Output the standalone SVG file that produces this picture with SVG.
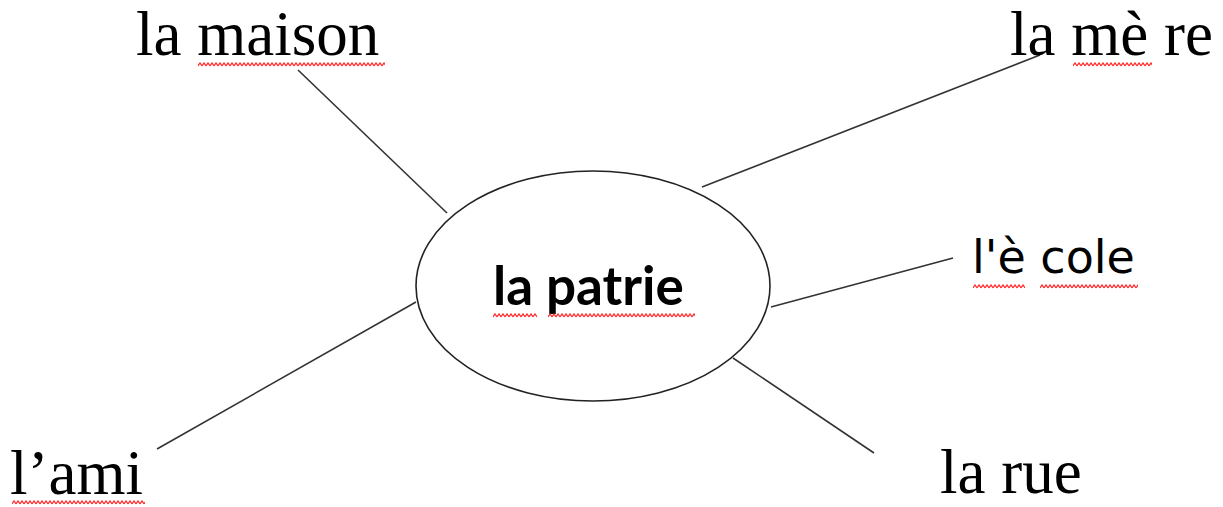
<svg xmlns="http://www.w3.org/2000/svg" width="1223" height="507" viewBox="0 0 1223 507">
<style>
.serif{font-family:"Liberation Serif","Times New Roman",serif;font-size:63px;fill:#000}
.center{font-family:Lato,"Open Sans",sans-serif;font-weight:700;font-size:53px;fill:#000}
.comic{font-family:"Comic Sans MS","DejaVu Sans",sans-serif;font-size:46px;fill:#000}
.conn line{stroke:#333;stroke-width:1.6;fill:none}
.ell{fill:#fff;stroke:#222;stroke-width:1.6}
</style>
<defs>
<pattern id="wave" patternUnits="userSpaceOnUse" width="4" height="5">
<path d="M0,4 L2,1 L4,4" fill="none" stroke="#ff3030" stroke-width="1.3"/>
</pattern>
</defs>
<rect width="1223" height="507" fill="#fff"/>
<g id="connectors" class="conn">
<line x1="298" y1="70" x2="447" y2="213"/>
<line x1="1040" y1="55" x2="702" y2="187"/>
<line x1="771" y1="307" x2="953" y2="258"/>
<line x1="733" y1="358" x2="874" y2="453"/>
<line x1="157" y1="449" x2="416" y2="302"/>
</g>
<g id="node-center">
<ellipse class="ell" cx="593" cy="286" rx="177" ry="115"/>
<text class="center" x="493" y="305">la patrie</text>
<rect transform="translate(493,313)" width="44" height="5" fill="url(#wave)"/>
<rect transform="translate(548,313)" width="147" height="5" fill="url(#wave)"/>
</g>
<g id="node-maison">
<text class="serif" x="136" y="55">la maison</text>
<rect transform="translate(198,62)" width="187" height="5" fill="url(#wave)"/>
</g>
<g id="node-mere">
<text class="serif" x="1010" y="55">la mè re</text>
<rect transform="translate(1073,62)" width="79" height="5" fill="url(#wave)"/>
</g>
<g id="node-ecole">
<text class="comic" x="972" y="273">l'è cole</text>
<rect transform="translate(973,284)" width="52" height="5" fill="url(#wave)"/>
<rect transform="translate(1040,284)" width="98" height="5" fill="url(#wave)"/>
</g>
<g id="node-ami">
<text class="serif" x="10" y="494">l’ami</text>
<rect transform="translate(12,500)" width="133" height="5" fill="url(#wave)"/>
</g>
<g id="node-rue">
<text class="serif" x="940" y="493">la rue</text>
</g>
</svg>
